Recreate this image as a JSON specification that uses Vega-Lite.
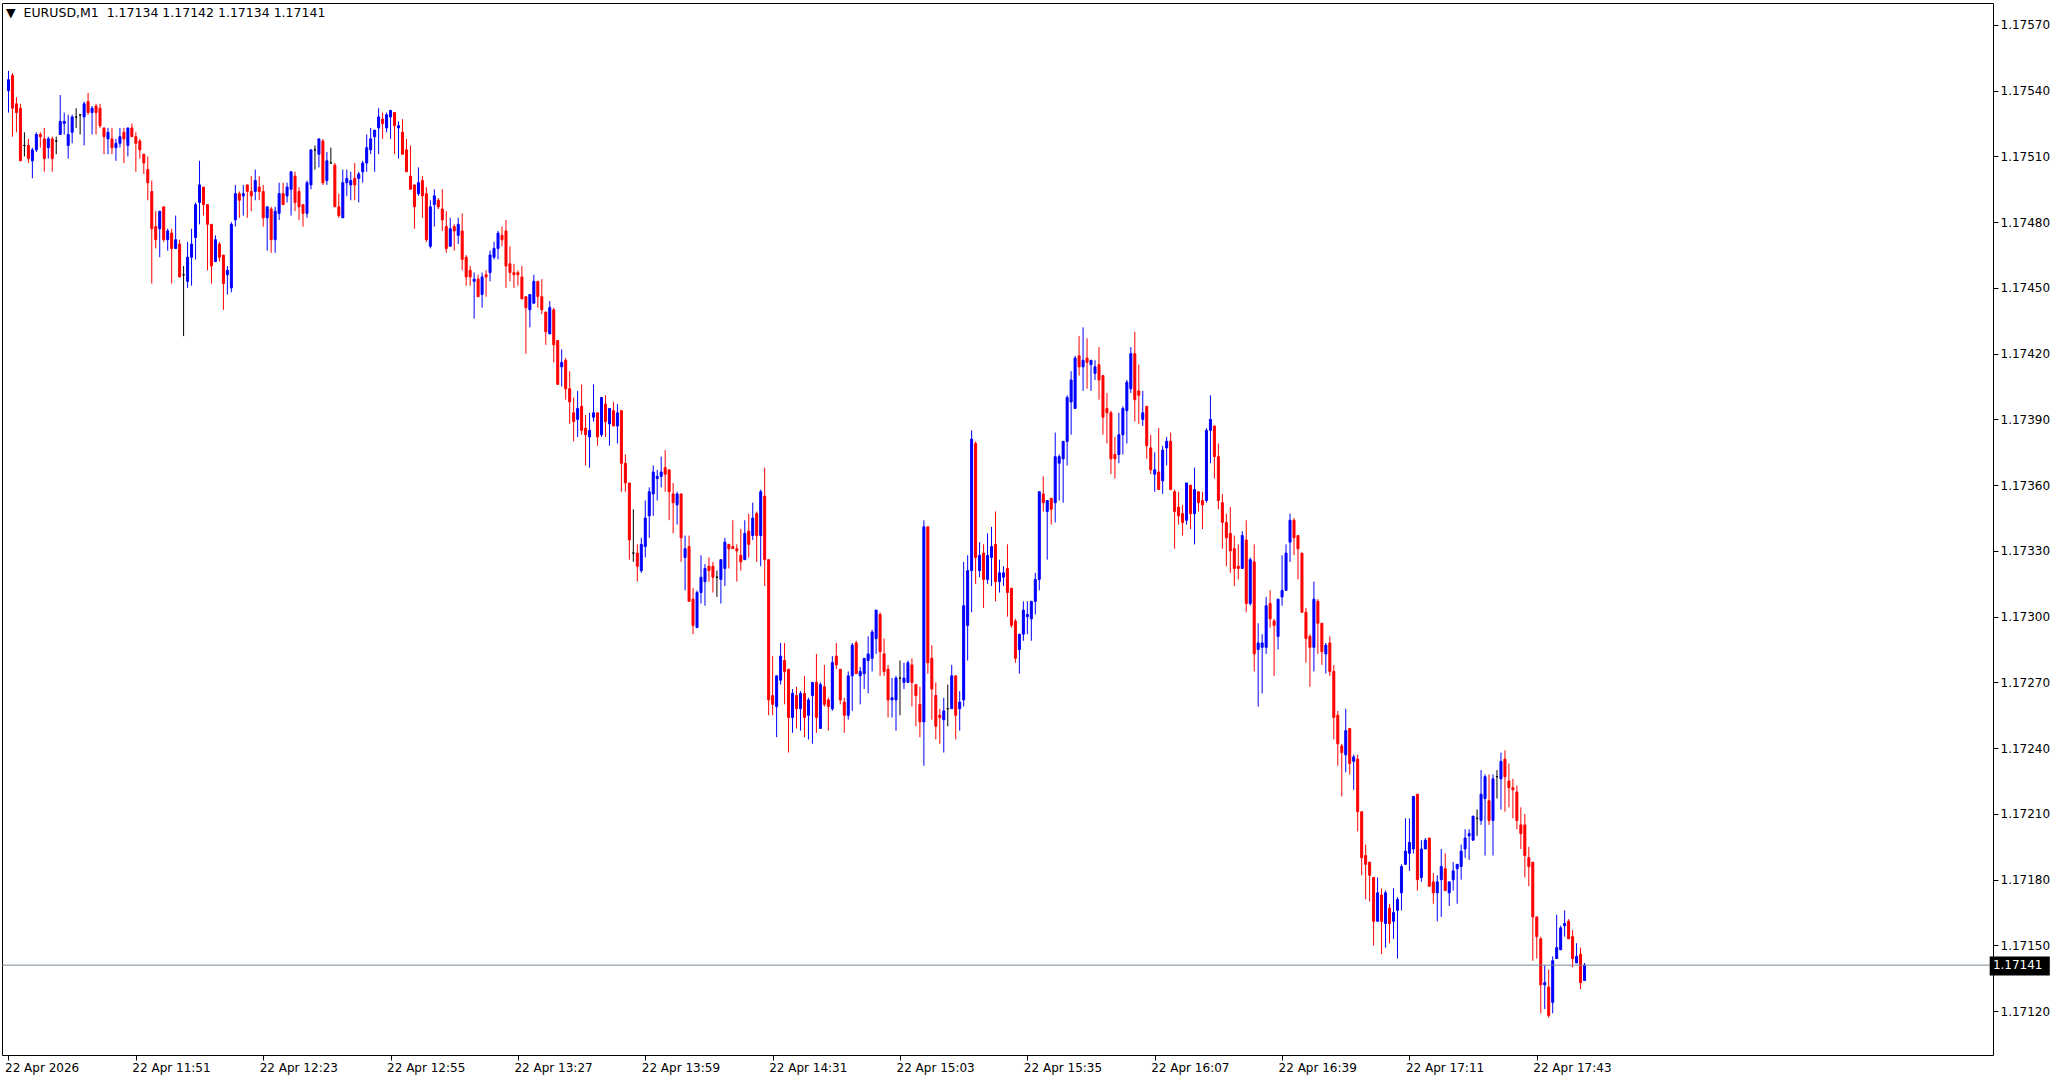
{
"$schema": "https://vega.github.io/schema/vega-lite/v6.json",
"width": 1991, "height": 1052,
"autosize": {"type": "none"},
"padding": {"left": 2, "top": 3, "right": 72, "bottom": 28},
"background": "white",
"config": {"view": {"stroke": "black", "strokeWidth": 1}, "font": "DejaVu Sans"},
"title": {"text": "▼\u00a0\u00a0EURUSD,M1\u00a0\u00a01.17134 1.17142 1.17134 1.17141", "anchor": "start", "frame": "group", "orient": "top", "offset": -26.5, "baseline": "alphabetic", "dx": 4, "font": "DejaVu Sans", "fontSize": 12.5, "fontWeight": "normal", "color": "black"},
"data": {"values": [
{"m":679,"o":1.17540,"h":1.17549,"l":1.17530,"c":1.17545},
{"m":680,"o":1.17547,"h":1.17548,"l":1.17519,"c":1.17532},
{"m":681,"o":1.17534,"h":1.17537,"l":1.17521,"c":1.17530},
{"m":682,"o":1.17532,"h":1.17534,"l":1.17508,"c":1.17508},
{"m":683,"o":1.17515,"h":1.17521,"l":1.17510,"c":1.17515},
{"m":684,"o":1.17515,"h":1.17518,"l":1.17507,"c":1.17509},
{"m":685,"o":1.17508,"h":1.17514,"l":1.17500,"c":1.17513},
{"m":686,"o":1.17513,"h":1.17521,"l":1.17512,"c":1.17520},
{"m":687,"o":1.17520,"h":1.17521,"l":1.17514,"c":1.17519},
{"m":688,"o":1.17518,"h":1.17523,"l":1.17503,"c":1.17509},
{"m":689,"o":1.17514,"h":1.17519,"l":1.17509,"c":1.17518},
{"m":690,"o":1.17518,"h":1.17519,"l":1.17503,"c":1.17509},
{"m":691,"o":1.17517,"h":1.17519,"l":1.17511,"c":1.17517},
{"m":692,"o":1.17520,"h":1.17538,"l":1.17520,"c":1.17526},
{"m":693,"o":1.17525,"h":1.17530,"l":1.17520,"c":1.17526},
{"m":694,"o":1.17515,"h":1.17529,"l":1.17509,"c":1.17520},
{"m":695,"o":1.17521,"h":1.17529,"l":1.17516,"c":1.17528},
{"m":696,"o":1.17528,"h":1.17532,"l":1.17523,"c":1.17528},
{"m":697,"o":1.17529,"h":1.17529,"l":1.17520,"c":1.17529},
{"m":698,"o":1.17528,"h":1.17535,"l":1.17515,"c":1.17534},
{"m":699,"o":1.17535,"h":1.17539,"l":1.17529,"c":1.17530},
{"m":700,"o":1.17530,"h":1.17533,"l":1.17520,"c":1.17532},
{"m":701,"o":1.17533,"h":1.17534,"l":1.17520,"c":1.17530},
{"m":702,"o":1.17532,"h":1.17534,"l":1.17523,"c":1.17524},
{"m":703,"o":1.17523,"h":1.17523,"l":1.17511,"c":1.17519},
{"m":704,"o":1.17518,"h":1.17523,"l":1.17511,"c":1.17521},
{"m":705,"o":1.17518,"h":1.17523,"l":1.17511,"c":1.17514},
{"m":706,"o":1.17514,"h":1.17518,"l":1.17508,"c":1.17516},
{"m":707,"o":1.17516,"h":1.17523,"l":1.17514,"c":1.17519},
{"m":708,"o":1.17521,"h":1.17523,"l":1.17507,"c":1.17518},
{"m":709,"o":1.17515,"h":1.17523,"l":1.17510,"c":1.17523},
{"m":710,"o":1.17523,"h":1.17525,"l":1.17519,"c":1.17519},
{"m":711,"o":1.17519,"h":1.17521,"l":1.17503,"c":1.17516},
{"m":712,"o":1.17517,"h":1.17518,"l":1.17509,"c":1.17513},
{"m":713,"o":1.17511,"h":1.17511,"l":1.17502,"c":1.17507},
{"m":714,"o":1.17504,"h":1.17510,"l":1.17490,"c":1.17498},
{"m":715,"o":1.17494,"h":1.17499,"l":1.17452,"c":1.17477},
{"m":716,"o":1.17478,"h":1.17485,"l":1.17468,"c":1.17472},
{"m":717,"o":1.17477,"h":1.17485,"l":1.17464,"c":1.17485},
{"m":718,"o":1.17487,"h":1.17487,"l":1.17471,"c":1.17472},
{"m":719,"o":1.17472,"h":1.17477,"l":1.17467,"c":1.17476},
{"m":720,"o":1.17475,"h":1.17477,"l":1.17452,"c":1.17468},
{"m":721,"o":1.17468,"h":1.17483,"l":1.17468,"c":1.17472},
{"m":722,"o":1.17470,"h":1.17472,"l":1.17455,"c":1.17455},
{"m":723,"o":1.17456,"h":1.17460,"l":1.17428,"c":1.17456},
{"m":724,"o":1.17453,"h":1.17471,"l":1.17450,"c":1.17464},
{"m":725,"o":1.17464,"h":1.17477,"l":1.17451,"c":1.17470},
{"m":726,"o":1.17473,"h":1.17489,"l":1.17463,"c":1.17488},
{"m":727,"o":1.17489,"h":1.17508,"l":1.17479,"c":1.17497},
{"m":728,"o":1.17496,"h":1.17496,"l":1.17483,"c":1.17488},
{"m":729,"o":1.17488,"h":1.17488,"l":1.17458,"c":1.17479},
{"m":730,"o":1.17479,"h":1.17479,"l":1.17452,"c":1.17460},
{"m":731,"o":1.17462,"h":1.17474,"l":1.17462,"c":1.17472},
{"m":732,"o":1.17470,"h":1.17471,"l":1.17462,"c":1.17464},
{"m":733,"o":1.17465,"h":1.17465,"l":1.17440,"c":1.17452},
{"m":734,"o":1.17456,"h":1.17460,"l":1.17447,"c":1.17458},
{"m":735,"o":1.17450,"h":1.17480,"l":1.17448,"c":1.17479},
{"m":736,"o":1.17481,"h":1.17497,"l":1.17478,"c":1.17493},
{"m":737,"o":1.17493,"h":1.17494,"l":1.17482,"c":1.17490},
{"m":738,"o":1.17492,"h":1.17497,"l":1.17483,"c":1.17493},
{"m":739,"o":1.17497,"h":1.17497,"l":1.17482,"c":1.17494},
{"m":740,"o":1.17494,"h":1.17501,"l":1.17485,"c":1.17492},
{"m":741,"o":1.17494,"h":1.17504,"l":1.17490,"c":1.17499},
{"m":742,"o":1.17496,"h":1.17501,"l":1.17490,"c":1.17494},
{"m":743,"o":1.17494,"h":1.17497,"l":1.17478,"c":1.17482},
{"m":744,"o":1.17482,"h":1.17487,"l":1.17467,"c":1.17487},
{"m":745,"o":1.17486,"h":1.17487,"l":1.17466,"c":1.17472},
{"m":746,"o":1.17472,"h":1.17487,"l":1.17466,"c":1.17485},
{"m":747,"o":1.17484,"h":1.17498,"l":1.17481,"c":1.17493},
{"m":748,"o":1.17493,"h":1.17498,"l":1.17488,"c":1.17488},
{"m":749,"o":1.17492,"h":1.17498,"l":1.17489,"c":1.17496},
{"m":750,"o":1.17495,"h":1.17503,"l":1.17483,"c":1.17503},
{"m":751,"o":1.17501,"h":1.17503,"l":1.17485,"c":1.17489},
{"m":752,"o":1.17494,"h":1.17496,"l":1.17481,"c":1.17487},
{"m":753,"o":1.17488,"h":1.17488,"l":1.17478,"c":1.17484},
{"m":754,"o":1.17484,"h":1.17499,"l":1.17482,"c":1.17498},
{"m":755,"o":1.17497,"h":1.17513,"l":1.17495,"c":1.17513},
{"m":756,"o":1.17513,"h":1.17515,"l":1.17504,"c":1.17513},
{"m":757,"o":1.17511,"h":1.17518,"l":1.17505,"c":1.17518},
{"m":758,"o":1.17517,"h":1.17518,"l":1.17497,"c":1.17498},
{"m":759,"o":1.17499,"h":1.17512,"l":1.17497,"c":1.17508},
{"m":760,"o":1.17507,"h":1.17514,"l":1.17507,"c":1.17507},
{"m":761,"o":1.17506,"h":1.17507,"l":1.17487,"c":1.17487},
{"m":762,"o":1.17487,"h":1.17493,"l":1.17482,"c":1.17483},
{"m":763,"o":1.17482,"h":1.17504,"l":1.17482,"c":1.17498},
{"m":764,"o":1.17498,"h":1.17504,"l":1.17492,"c":1.17500},
{"m":765,"o":1.17497,"h":1.17503,"l":1.17490,"c":1.17499},
{"m":766,"o":1.17500,"h":1.17507,"l":1.17490,"c":1.17497},
{"m":767,"o":1.17500,"h":1.17503,"l":1.17489,"c":1.17502},
{"m":768,"o":1.17503,"h":1.17508,"l":1.17498,"c":1.17507},
{"m":769,"o":1.17507,"h":1.17520,"l":1.17503,"c":1.17514},
{"m":770,"o":1.17513,"h":1.17523,"l":1.17511,"c":1.17518},
{"m":771,"o":1.17519,"h":1.17522,"l":1.17503,"c":1.17522},
{"m":772,"o":1.17523,"h":1.17532,"l":1.17511,"c":1.17528},
{"m":773,"o":1.17527,"h":1.17530,"l":1.17518,"c":1.17525},
{"m":774,"o":1.17523,"h":1.17530,"l":1.17521,"c":1.17529},
{"m":775,"o":1.17528,"h":1.17531,"l":1.17518,"c":1.17531},
{"m":776,"o":1.17530,"h":1.17530,"l":1.17511,"c":1.17524},
{"m":777,"o":1.17523,"h":1.17526,"l":1.17509,"c":1.17524},
{"m":778,"o":1.17521,"h":1.17527,"l":1.17511,"c":1.17511},
{"m":779,"o":1.17513,"h":1.17518,"l":1.17503,"c":1.17503},
{"m":780,"o":1.17501,"h":1.17515,"l":1.17495,"c":1.17495},
{"m":781,"o":1.17497,"h":1.17497,"l":1.17477,"c":1.17487},
{"m":782,"o":1.17493,"h":1.17505,"l":1.17492,"c":1.17498},
{"m":783,"o":1.17499,"h":1.17501,"l":1.17482,"c":1.17492},
{"m":784,"o":1.17493,"h":1.17496,"l":1.17471,"c":1.17472},
{"m":785,"o":1.17469,"h":1.17490,"l":1.17468,"c":1.17487},
{"m":786,"o":1.17488,"h":1.17495,"l":1.17478,"c":1.17492},
{"m":787,"o":1.17490,"h":1.17491,"l":1.17486,"c":1.17487},
{"m":788,"o":1.17486,"h":1.17495,"l":1.17476,"c":1.17481},
{"m":789,"o":1.17478,"h":1.17485,"l":1.17466,"c":1.17468},
{"m":790,"o":1.17469,"h":1.17482,"l":1.17469,"c":1.17477},
{"m":791,"o":1.17478,"h":1.17479,"l":1.17467,"c":1.17476},
{"m":792,"o":1.17474,"h":1.17482,"l":1.17470,"c":1.17479},
{"m":793,"o":1.17476,"h":1.17484,"l":1.17458,"c":1.17463},
{"m":794,"o":1.17464,"h":1.17465,"l":1.17451,"c":1.17455},
{"m":795,"o":1.17458,"h":1.17460,"l":1.17451,"c":1.17455},
{"m":796,"o":1.17453,"h":1.17457,"l":1.17436,"c":1.17454},
{"m":797,"o":1.17454,"h":1.17456,"l":1.17446,"c":1.17446},
{"m":798,"o":1.17447,"h":1.17457,"l":1.17441,"c":1.17455},
{"m":799,"o":1.17456,"h":1.17458,"l":1.17446,"c":1.17455},
{"m":800,"o":1.17457,"h":1.17467,"l":1.17453,"c":1.17465},
{"m":801,"o":1.17464,"h":1.17471,"l":1.17463,"c":1.17468},
{"m":802,"o":1.17468,"h":1.17476,"l":1.17463,"c":1.17475},
{"m":803,"o":1.17474,"h":1.17478,"l":1.17469,"c":1.17472},
{"m":804,"o":1.17476,"h":1.17481,"l":1.17450,"c":1.17460},
{"m":805,"o":1.17461,"h":1.17469,"l":1.17453,"c":1.17457},
{"m":806,"o":1.17457,"h":1.17461,"l":1.17450,"c":1.17456},
{"m":807,"o":1.17457,"h":1.17458,"l":1.17451,"c":1.17456},
{"m":808,"o":1.17455,"h":1.17460,"l":1.17445,"c":1.17445},
{"m":809,"o":1.17446,"h":1.17446,"l":1.17420,"c":1.17441},
{"m":810,"o":1.17440,"h":1.17447,"l":1.17432,"c":1.17447},
{"m":811,"o":1.17443,"h":1.17456,"l":1.17443,"c":1.17453},
{"m":812,"o":1.17453,"h":1.17453,"l":1.17441,"c":1.17446},
{"m":813,"o":1.17446,"h":1.17454,"l":1.17438,"c":1.17440},
{"m":814,"o":1.17439,"h":1.17439,"l":1.17424,"c":1.17430},
{"m":815,"o":1.17429,"h":1.17444,"l":1.17429,"c":1.17441},
{"m":816,"o":1.17440,"h":1.17441,"l":1.17416,"c":1.17424},
{"m":817,"o":1.17426,"h":1.17426,"l":1.17406,"c":1.17406},
{"m":818,"o":1.17414,"h":1.17422,"l":1.17405,"c":1.17416},
{"m":819,"o":1.17417,"h":1.17418,"l":1.17399,"c":1.17404},
{"m":820,"o":1.17404,"h":1.17412,"l":1.17388,"c":1.17398},
{"m":821,"o":1.17393,"h":1.17400,"l":1.17380,"c":1.17389},
{"m":822,"o":1.17390,"h":1.17403,"l":1.17382,"c":1.17395},
{"m":823,"o":1.17396,"h":1.17406,"l":1.17383,"c":1.17385},
{"m":824,"o":1.17386,"h":1.17392,"l":1.17369,"c":1.17383},
{"m":825,"o":1.17382,"h":1.17393,"l":1.17368,"c":1.17385},
{"m":826,"o":1.17391,"h":1.17406,"l":1.17389,"c":1.17393},
{"m":827,"o":1.17393,"h":1.17393,"l":1.17378,"c":1.17382},
{"m":828,"o":1.17383,"h":1.17400,"l":1.17382,"c":1.17400},
{"m":829,"o":1.17397,"h":1.17401,"l":1.17382,"c":1.17389},
{"m":830,"o":1.17388,"h":1.17395,"l":1.17378,"c":1.17395},
{"m":831,"o":1.17394,"h":1.17398,"l":1.17387,"c":1.17387},
{"m":832,"o":1.17387,"h":1.17397,"l":1.17379,"c":1.17393},
{"m":833,"o":1.17394,"h":1.17394,"l":1.17357,"c":1.17370},
{"m":834,"o":1.17370,"h":1.17374,"l":1.17357,"c":1.17361},
{"m":835,"o":1.17361,"h":1.17361,"l":1.17326,"c":1.17335},
{"m":836,"o":1.17329,"h":1.17349,"l":1.17325,"c":1.17329},
{"m":837,"o":1.17329,"h":1.17333,"l":1.17316,"c":1.17323},
{"m":838,"o":1.17321,"h":1.17336,"l":1.17320,"c":1.17333},
{"m":839,"o":1.17332,"h":1.17353,"l":1.17327,"c":1.17345},
{"m":840,"o":1.17346,"h":1.17359,"l":1.17336,"c":1.17357},
{"m":841,"o":1.17356,"h":1.17369,"l":1.17346,"c":1.17366},
{"m":842,"o":1.17363,"h":1.17367,"l":1.17353,"c":1.17364},
{"m":843,"o":1.17364,"h":1.17373,"l":1.17359,"c":1.17366},
{"m":844,"o":1.17368,"h":1.17376,"l":1.17357,"c":1.17365},
{"m":845,"o":1.17367,"h":1.17367,"l":1.17344,"c":1.17357},
{"m":846,"o":1.17356,"h":1.17361,"l":1.17338,"c":1.17352},
{"m":847,"o":1.17351,"h":1.17357,"l":1.17342,"c":1.17356},
{"m":848,"o":1.17356,"h":1.17356,"l":1.17325,"c":1.17336},
{"m":849,"o":1.17327,"h":1.17337,"l":1.17312,"c":1.17331},
{"m":850,"o":1.17332,"h":1.17337,"l":1.17307,"c":1.17307},
{"m":851,"o":1.17308,"h":1.17313,"l":1.17292,"c":1.17296},
{"m":852,"o":1.17295,"h":1.17312,"l":1.17295,"c":1.17311},
{"m":853,"o":1.17311,"h":1.17328,"l":1.17306,"c":1.17318},
{"m":854,"o":1.17316,"h":1.17324,"l":1.17305,"c":1.17322},
{"m":855,"o":1.17323,"h":1.17327,"l":1.17316,"c":1.17321},
{"m":856,"o":1.17323,"h":1.17325,"l":1.17311,"c":1.17318},
{"m":857,"o":1.17318,"h":1.17321,"l":1.17309,"c":1.17318},
{"m":858,"o":1.17317,"h":1.17326,"l":1.17306,"c":1.17326},
{"m":859,"o":1.17322,"h":1.17336,"l":1.17314,"c":1.17334},
{"m":860,"o":1.17333,"h":1.17333,"l":1.17322,"c":1.17331},
{"m":861,"o":1.17332,"h":1.17344,"l":1.17331,"c":1.17331},
{"m":862,"o":1.17331,"h":1.17333,"l":1.17316,"c":1.17330},
{"m":863,"o":1.17328,"h":1.17340,"l":1.17321,"c":1.17325},
{"m":864,"o":1.17326,"h":1.17344,"l":1.17326,"c":1.17338},
{"m":865,"o":1.17339,"h":1.17347,"l":1.17327,"c":1.17333},
{"m":866,"o":1.17337,"h":1.17352,"l":1.17335,"c":1.17345},
{"m":867,"o":1.17347,"h":1.17348,"l":1.17325,"c":1.17337},
{"m":868,"o":1.17337,"h":1.17358,"l":1.17323,"c":1.17357},
{"m":869,"o":1.17355,"h":1.17368,"l":1.17314,"c":1.17326},
{"m":870,"o":1.17326,"h":1.17326,"l":1.17255,"c":1.17262},
{"m":871,"o":1.17264,"h":1.17282,"l":1.17255,"c":1.17260},
{"m":872,"o":1.17259,"h":1.17273,"l":1.17245,"c":1.17273},
{"m":873,"o":1.17271,"h":1.17288,"l":1.17269,"c":1.17282},
{"m":874,"o":1.17280,"h":1.17288,"l":1.17260,"c":1.17275},
{"m":875,"o":1.17276,"h":1.17276,"l":1.17238,"c":1.17254},
{"m":876,"o":1.17254,"h":1.17267,"l":1.17247,"c":1.17265},
{"m":877,"o":1.17264,"h":1.17268,"l":1.17249,"c":1.17258},
{"m":878,"o":1.17258,"h":1.17266,"l":1.17248,"c":1.17265},
{"m":879,"o":1.17265,"h":1.17273,"l":1.17245,"c":1.17254},
{"m":880,"o":1.17255,"h":1.17263,"l":1.17244,"c":1.17262},
{"m":881,"o":1.17264,"h":1.17270,"l":1.17242,"c":1.17270},
{"m":882,"o":1.17270,"h":1.17283,"l":1.17247,"c":1.17254},
{"m":883,"o":1.17249,"h":1.17270,"l":1.17249,"c":1.17269},
{"m":884,"o":1.17268,"h":1.17278,"l":1.17259,"c":1.17260},
{"m":885,"o":1.17262,"h":1.17263,"l":1.17248,"c":1.17259},
{"m":886,"o":1.17258,"h":1.17282,"l":1.17257,"c":1.17279},
{"m":887,"o":1.17282,"h":1.17288,"l":1.17276,"c":1.17278},
{"m":888,"o":1.17276,"h":1.17276,"l":1.17260,"c":1.17262},
{"m":889,"o":1.17261,"h":1.17263,"l":1.17247,"c":1.17255},
{"m":890,"o":1.17255,"h":1.17275,"l":1.17253,"c":1.17273},
{"m":891,"o":1.17273,"h":1.17288,"l":1.17257,"c":1.17287},
{"m":892,"o":1.17288,"h":1.17289,"l":1.17274,"c":1.17274},
{"m":893,"o":1.17273,"h":1.17277,"l":1.17260,"c":1.17275},
{"m":894,"o":1.17274,"h":1.17281,"l":1.17267,"c":1.17281},
{"m":895,"o":1.17280,"h":1.17291,"l":1.17265,"c":1.17283},
{"m":896,"o":1.17281,"h":1.17294,"l":1.17275,"c":1.17293},
{"m":897,"o":1.17290,"h":1.17303,"l":1.17283,"c":1.17303},
{"m":898,"o":1.17301,"h":1.17302,"l":1.17273,"c":1.17284},
{"m":899,"o":1.17283,"h":1.17290,"l":1.17273,"c":1.17275},
{"m":900,"o":1.17276,"h":1.17278,"l":1.17254,"c":1.17262},
{"m":901,"o":1.17262,"h":1.17272,"l":1.17254,"c":1.17263},
{"m":902,"o":1.17262,"h":1.17273,"l":1.17248,"c":1.17272},
{"m":903,"o":1.17272,"h":1.17280,"l":1.17255,"c":1.17272},
{"m":904,"o":1.17270,"h":1.17279,"l":1.17267,"c":1.17272},
{"m":905,"o":1.17270,"h":1.17280,"l":1.17270,"c":1.17279},
{"m":906,"o":1.17278,"h":1.17281,"l":1.17259,"c":1.17270},
{"m":907,"o":1.17269,"h":1.17269,"l":1.17250,"c":1.17264},
{"m":908,"o":1.17260,"h":1.17268,"l":1.17245,"c":1.17252},
{"m":909,"o":1.17252,"h":1.17344,"l":1.17232,"c":1.17341},
{"m":910,"o":1.17341,"h":1.17341,"l":1.17274,"c":1.17279},
{"m":911,"o":1.17281,"h":1.17287,"l":1.17253,"c":1.17267},
{"m":912,"o":1.17264,"h":1.17270,"l":1.17244,"c":1.17250},
{"m":913,"o":1.17255,"h":1.17258,"l":1.17242,"c":1.17254},
{"m":914,"o":1.17253,"h":1.17263,"l":1.17238,"c":1.17257},
{"m":915,"o":1.17258,"h":1.17269,"l":1.17250,"c":1.17258},
{"m":916,"o":1.17258,"h":1.17278,"l":1.17258,"c":1.17273},
{"m":917,"o":1.17273,"h":1.17273,"l":1.17244,"c":1.17255},
{"m":918,"o":1.17258,"h":1.17266,"l":1.17248,"c":1.17261},
{"m":919,"o":1.17262,"h":1.17325,"l":1.17259,"c":1.17305},
{"m":920,"o":1.17296,"h":1.17328,"l":1.17280,"c":1.17321},
{"m":921,"o":1.17321,"h":1.17385,"l":1.17302,"c":1.17381},
{"m":922,"o":1.17379,"h":1.17380,"l":1.17315,"c":1.17327},
{"m":923,"o":1.17321,"h":1.17334,"l":1.17318,"c":1.17328},
{"m":924,"o":1.17329,"h":1.17333,"l":1.17304,"c":1.17317},
{"m":925,"o":1.17317,"h":1.17338,"l":1.17315,"c":1.17328},
{"m":926,"o":1.17327,"h":1.17341,"l":1.17314,"c":1.17332},
{"m":927,"o":1.17333,"h":1.17348,"l":1.17307,"c":1.17316},
{"m":928,"o":1.17316,"h":1.17326,"l":1.17311,"c":1.17320},
{"m":929,"o":1.17318,"h":1.17323,"l":1.17314,"c":1.17320},
{"m":930,"o":1.17322,"h":1.17333,"l":1.17300,"c":1.17311},
{"m":931,"o":1.17313,"h":1.17313,"l":1.17295,"c":1.17296},
{"m":932,"o":1.17298,"h":1.17299,"l":1.17279,"c":1.17281},
{"m":933,"o":1.17285,"h":1.17292,"l":1.17274,"c":1.17292},
{"m":934,"o":1.17292,"h":1.17307,"l":1.17289,"c":1.17303},
{"m":935,"o":1.17300,"h":1.17307,"l":1.17292,"c":1.17301},
{"m":936,"o":1.17299,"h":1.17307,"l":1.17289,"c":1.17307},
{"m":937,"o":1.17307,"h":1.17320,"l":1.17301,"c":1.17317},
{"m":938,"o":1.17317,"h":1.17357,"l":1.17312,"c":1.17357},
{"m":939,"o":1.17356,"h":1.17364,"l":1.17348,"c":1.17352},
{"m":940,"o":1.17348,"h":1.17353,"l":1.17326,"c":1.17353},
{"m":941,"o":1.17354,"h":1.17354,"l":1.17342,"c":1.17349},
{"m":942,"o":1.17352,"h":1.17384,"l":1.17343,"c":1.17373},
{"m":943,"o":1.17370,"h":1.17374,"l":1.17353,"c":1.17373},
{"m":944,"o":1.17372,"h":1.17380,"l":1.17352,"c":1.17380},
{"m":945,"o":1.17380,"h":1.17401,"l":1.17369,"c":1.17400},
{"m":946,"o":1.17398,"h":1.17412,"l":1.17383,"c":1.17408},
{"m":947,"o":1.17395,"h":1.17419,"l":1.17395,"c":1.17418},
{"m":948,"o":1.17419,"h":1.17428,"l":1.17410,"c":1.17414},
{"m":949,"o":1.17414,"h":1.17432,"l":1.17403,"c":1.17417},
{"m":950,"o":1.17418,"h":1.17427,"l":1.17404,"c":1.17416},
{"m":951,"o":1.17415,"h":1.17417,"l":1.17403,"c":1.17417},
{"m":952,"o":1.17411,"h":1.17417,"l":1.17408,"c":1.17414},
{"m":953,"o":1.17415,"h":1.17423,"l":1.17399,"c":1.17408},
{"m":954,"o":1.17410,"h":1.17410,"l":1.17383,"c":1.17391},
{"m":955,"o":1.17395,"h":1.17402,"l":1.17379,"c":1.17393},
{"m":956,"o":1.17393,"h":1.17394,"l":1.17365,"c":1.17372},
{"m":957,"o":1.17374,"h":1.17382,"l":1.17363,"c":1.17372},
{"m":958,"o":1.17374,"h":1.17393,"l":1.17370,"c":1.17383},
{"m":959,"o":1.17383,"h":1.17396,"l":1.17374,"c":1.17395},
{"m":960,"o":1.17394,"h":1.17408,"l":1.17379,"c":1.17407},
{"m":961,"o":1.17404,"h":1.17423,"l":1.17402,"c":1.17420},
{"m":962,"o":1.17420,"h":1.17430,"l":1.17389,"c":1.17399},
{"m":963,"o":1.17403,"h":1.17415,"l":1.17388,"c":1.17401},
{"m":964,"o":1.17390,"h":1.17403,"l":1.17387,"c":1.17393},
{"m":965,"o":1.17396,"h":1.17396,"l":1.17372,"c":1.17378},
{"m":966,"o":1.17377,"h":1.17383,"l":1.17365,"c":1.17367},
{"m":967,"o":1.17365,"h":1.17375,"l":1.17357,"c":1.17367},
{"m":968,"o":1.17366,"h":1.17386,"l":1.17358,"c":1.17358},
{"m":969,"o":1.17362,"h":1.17378,"l":1.17356,"c":1.17376},
{"m":970,"o":1.17377,"h":1.17382,"l":1.17369,"c":1.17380},
{"m":971,"o":1.17380,"h":1.17384,"l":1.17358,"c":1.17358},
{"m":972,"o":1.17357,"h":1.17358,"l":1.17331,"c":1.17348},
{"m":973,"o":1.17350,"h":1.17357,"l":1.17342,"c":1.17346},
{"m":974,"o":1.17347,"h":1.17351,"l":1.17337,"c":1.17343},
{"m":975,"o":1.17344,"h":1.17361,"l":1.17342,"c":1.17361},
{"m":976,"o":1.17360,"h":1.17360,"l":1.17340,"c":1.17347},
{"m":977,"o":1.17347,"h":1.17368,"l":1.17333,"c":1.17358},
{"m":978,"o":1.17357,"h":1.17357,"l":1.17348,"c":1.17352},
{"m":979,"o":1.17353,"h":1.17357,"l":1.17340,"c":1.17351},
{"m":980,"o":1.17353,"h":1.17386,"l":1.17352,"c":1.17385},
{"m":981,"o":1.17385,"h":1.17401,"l":1.17370,"c":1.17390},
{"m":982,"o":1.17387,"h":1.17387,"l":1.17363,"c":1.17373},
{"m":983,"o":1.17373,"h":1.17379,"l":1.17349,"c":1.17353},
{"m":984,"o":1.17352,"h":1.17356,"l":1.17331,"c":1.17343},
{"m":985,"o":1.17343,"h":1.17347,"l":1.17323,"c":1.17336},
{"m":986,"o":1.17338,"h":1.17350,"l":1.17320,"c":1.17330},
{"m":987,"o":1.17331,"h":1.17337,"l":1.17314,"c":1.17322},
{"m":988,"o":1.17323,"h":1.17333,"l":1.17317,"c":1.17322},
{"m":989,"o":1.17322,"h":1.17339,"l":1.17322,"c":1.17337},
{"m":990,"o":1.17335,"h":1.17344,"l":1.17302,"c":1.17306},
{"m":991,"o":1.17306,"h":1.17327,"l":1.17305,"c":1.17326},
{"m":992,"o":1.17325,"h":1.17333,"l":1.17275,"c":1.17283},
{"m":993,"o":1.17285,"h":1.17297,"l":1.17259,"c":1.17288},
{"m":994,"o":1.17286,"h":1.17292,"l":1.17265,"c":1.17288},
{"m":995,"o":1.17286,"h":1.17309,"l":1.17283,"c":1.17305},
{"m":996,"o":1.17306,"h":1.17312,"l":1.17295,"c":1.17299},
{"m":997,"o":1.17298,"h":1.17299,"l":1.17273,"c":1.17296},
{"m":998,"o":1.17291,"h":1.17308,"l":1.17285,"c":1.17308},
{"m":999,"o":1.17309,"h":1.17328,"l":1.17305,"c":1.17312},
{"m":1000,"o":1.17312,"h":1.17333,"l":1.17312,"c":1.17329},
{"m":1001,"o":1.17334,"h":1.17347,"l":1.17325,"c":1.17344},
{"m":1002,"o":1.17344,"h":1.17345,"l":1.17328,"c":1.17336},
{"m":1003,"o":1.17337,"h":1.17337,"l":1.17317,"c":1.17331},
{"m":1004,"o":1.17329,"h":1.17329,"l":1.17302,"c":1.17302},
{"m":1005,"o":1.17302,"h":1.17304,"l":1.17279,"c":1.17290},
{"m":1006,"o":1.17291,"h":1.17292,"l":1.17268,"c":1.17286},
{"m":1007,"o":1.17286,"h":1.17316,"l":1.17275,"c":1.17308},
{"m":1008,"o":1.17307,"h":1.17308,"l":1.17283,"c":1.17297},
{"m":1009,"o":1.17297,"h":1.17297,"l":1.17278,"c":1.17284},
{"m":1010,"o":1.17283,"h":1.17288,"l":1.17274,"c":1.17287},
{"m":1011,"o":1.17288,"h":1.17291,"l":1.17273,"c":1.17275},
{"m":1012,"o":1.17275,"h":1.17278,"l":1.17244,"c":1.17254},
{"m":1013,"o":1.17255,"h":1.17257,"l":1.17232,"c":1.17242},
{"m":1014,"o":1.17241,"h":1.17242,"l":1.17218,"c":1.17238},
{"m":1015,"o":1.17237,"h":1.17258,"l":1.17229,"c":1.17248},
{"m":1016,"o":1.17249,"h":1.17249,"l":1.17228,"c":1.17233},
{"m":1017,"o":1.17234,"h":1.17237,"l":1.17221,"c":1.17236},
{"m":1018,"o":1.17235,"h":1.17237,"l":1.17202,"c":1.17211},
{"m":1019,"o":1.17211,"h":1.17211,"l":1.17182,"c":1.17190},
{"m":1020,"o":1.17191,"h":1.17196,"l":1.17171,"c":1.17187},
{"m":1021,"o":1.17188,"h":1.17188,"l":1.17170,"c":1.17182},
{"m":1022,"o":1.17181,"h":1.17181,"l":1.17150,"c":1.17161},
{"m":1023,"o":1.17161,"h":1.17181,"l":1.17161,"c":1.17174},
{"m":1024,"o":1.17173,"h":1.17176,"l":1.17146,"c":1.17161},
{"m":1025,"o":1.17160,"h":1.17175,"l":1.17149,"c":1.17174},
{"m":1026,"o":1.17167,"h":1.17169,"l":1.17151,"c":1.17160},
{"m":1027,"o":1.17161,"h":1.17176,"l":1.17153,"c":1.17165},
{"m":1028,"o":1.17166,"h":1.17172,"l":1.17144,"c":1.17171},
{"m":1029,"o":1.17174,"h":1.17187,"l":1.17166,"c":1.17186},
{"m":1030,"o":1.17187,"h":1.17208,"l":1.17187,"c":1.17193},
{"m":1031,"o":1.17192,"h":1.17208,"l":1.17184,"c":1.17197},
{"m":1032,"o":1.17194,"h":1.17218,"l":1.17192,"c":1.17218},
{"m":1033,"o":1.17219,"h":1.17219,"l":1.17175,"c":1.17180},
{"m":1034,"o":1.17181,"h":1.17198,"l":1.17179,"c":1.17194},
{"m":1035,"o":1.17194,"h":1.17199,"l":1.17194,"c":1.17198},
{"m":1036,"o":1.17199,"h":1.17199,"l":1.17177,"c":1.17177},
{"m":1037,"o":1.17179,"h":1.17183,"l":1.17169,"c":1.17174},
{"m":1038,"o":1.17174,"h":1.17182,"l":1.17161,"c":1.17179},
{"m":1039,"o":1.17180,"h":1.17194,"l":1.17163,"c":1.17186},
{"m":1040,"o":1.17185,"h":1.17192,"l":1.17175,"c":1.17175},
{"m":1041,"o":1.17174,"h":1.17179,"l":1.17168,"c":1.17179},
{"m":1042,"o":1.17180,"h":1.17188,"l":1.17175,"c":1.17184},
{"m":1043,"o":1.17185,"h":1.17187,"l":1.17169,"c":1.17187},
{"m":1044,"o":1.17186,"h":1.17196,"l":1.17180,"c":1.17193},
{"m":1045,"o":1.17194,"h":1.17203,"l":1.17190,"c":1.17199},
{"m":1046,"o":1.17200,"h":1.17203,"l":1.17189,"c":1.17201},
{"m":1047,"o":1.17198,"h":1.17209,"l":1.17198,"c":1.17209},
{"m":1048,"o":1.17208,"h":1.17212,"l":1.17200,"c":1.17208},
{"m":1049,"o":1.17207,"h":1.17230,"l":1.17205,"c":1.17219},
{"m":1050,"o":1.17217,"h":1.17228,"l":1.17191,"c":1.17227},
{"m":1051,"o":1.17216,"h":1.17228,"l":1.17205,"c":1.17207},
{"m":1052,"o":1.17207,"h":1.17228,"l":1.17191,"c":1.17226},
{"m":1053,"o":1.17227,"h":1.17230,"l":1.17217,"c":1.17227},
{"m":1054,"o":1.17226,"h":1.17238,"l":1.17212,"c":1.17234},
{"m":1055,"o":1.17235,"h":1.17239,"l":1.17211,"c":1.17227},
{"m":1056,"o":1.17225,"h":1.17233,"l":1.17213,"c":1.17222},
{"m":1057,"o":1.17222,"h":1.17226,"l":1.17208,"c":1.17221},
{"m":1058,"o":1.17220,"h":1.17223,"l":1.17203,"c":1.17207},
{"m":1059,"o":1.17205,"h":1.17213,"l":1.17194,"c":1.17201},
{"m":1060,"o":1.17205,"h":1.17210,"l":1.17181,"c":1.17191},
{"m":1061,"o":1.17190,"h":1.17195,"l":1.17177,"c":1.17186},
{"m":1062,"o":1.17188,"h":1.17188,"l":1.17143,"c":1.17163},
{"m":1063,"o":1.17163,"h":1.17163,"l":1.17144,"c":1.17154},
{"m":1064,"o":1.17153,"h":1.17154,"l":1.17119,"c":1.17132},
{"m":1065,"o":1.17132,"h":1.17141,"l":1.17121,"c":1.17133},
{"m":1066,"o":1.17131,"h":1.17139,"l":1.17117,"c":1.17118},
{"m":1067,"o":1.17124,"h":1.17145,"l":1.17119,"c":1.17143},
{"m":1068,"o":1.17144,"h":1.17164,"l":1.17144,"c":1.17149},
{"m":1069,"o":1.17148,"h":1.17159,"l":1.17148,"c":1.17158},
{"m":1070,"o":1.17159,"h":1.17166,"l":1.17154,"c":1.17160},
{"m":1071,"o":1.17161,"h":1.17162,"l":1.17153,"c":1.17153},
{"m":1072,"o":1.17154,"h":1.17157,"l":1.17140,"c":1.17144},
{"m":1073,"o":1.17142,"h":1.17151,"l":1.17142,"c":1.17145},
{"m":1074,"o":1.17146,"h":1.17149,"l":1.17130,"c":1.17133},
{"m":1075,"o":1.17134,"h":1.17142,"l":1.17134,"c":1.17141}
]},
"layer": [
{"mark": {"type": "rule", "strokeWidth": 1, "clip": true},
 "encoding": {
  "x": {"field": "m", "type": "quantitative", "scale": {"domain": [678.625, 1176.375], "nice": false, "zero": false},
        "axis": {"orient": "bottom", "title": null, "grid": false, "domain": false, "values": [679, 711, 743, 775, 807, 839, 871, 903, 935, 967, 999, 1031, 1063],
                 "labelExpr": "datum.value == 679 ? '22 Apr 2026' : '22 Apr ' + floor(datum.value / 60) + ':' + (datum.value % 60 < 10 ? '0' : '') + (datum.value % 60)",
                 "labelAlign": "left", "labelOffset": -4, "labelFlush": false, "labelOverlap": false, "tickSize": 5, "tickColor": "black", "labelPadding": 2,
                 "labelFont": "DejaVu Sans", "labelFontSize": 12, "labelColor": "black"}},
  "y": {"field": "l", "type": "quantitative", "scale": {"domain": [1.171, 1.1758], "nice": false, "zero": false},
        "axis": {"orient": "right", "title": null, "grid": false, "domain": false, "format": ".5f",
                 "values": [1.1712, 1.1715, 1.1718, 1.1721, 1.1724, 1.1727, 1.173, 1.1733, 1.1736, 1.1739, 1.1742, 1.1745, 1.1748, 1.1751, 1.1754, 1.1757],
                 "labelFlush": false, "labelOverlap": false, "tickSize": 5, "tickColor": "black", "labelPadding": 2,
                 "labelFont": "DejaVu Sans", "labelFontSize": 12, "labelColor": "black"}},
  "y2": {"field": "h"},
  "color": {"condition": [{"test": "datum.c > datum.o", "value": "#0000ff"}, {"test": "datum.c < datum.o", "value": "#ff0000"}], "value": "#000000"}
 }},
{"mark": {"type": "bar", "width": 2, "strokeWidth": 1, "clip": true},
 "encoding": {
  "x": {"field": "m", "type": "quantitative"},
  "y": {"field": "o", "type": "quantitative"},
  "y2": {"field": "c"},
  "fill": {"condition": [{"test": "datum.c > datum.o", "value": "#0000ff"}, {"test": "datum.c < datum.o", "value": "#ff0000"}], "value": "#000000"},
  "stroke": {"condition": [{"test": "datum.c > datum.o", "value": "#0000ff"}, {"test": "datum.c < datum.o", "value": "#ff0000"}], "value": "#000000"}
 }},
{"data": {"values": [{"bid": 1.17141}]},
 "mark": {"type": "rule", "color": "#778899", "strokeWidth": 1},
 "encoding": {"y": {"field": "bid", "type": "quantitative"}}},
{"data": {"values": [{"bid": 1.17141}]},
 "mark": {"type": "rect", "color": "black"},
 "encoding": {"x": {"datum": 1176.8}, "x2": {"datum": 1191.9}, "y": {"datum": 1.171363}, "y2": {"datum": 1.17145}}},
{"data": {"values": [{"bid": 1.17141}]},
 "mark": {"type": "text", "color": "white", "align": "left", "baseline": "middle", "font": "DejaVu Sans", "fontSize": 12},
 "encoding": {"x": {"datum": 1177.6}, "y": {"field": "bid", "type": "quantitative"}, "text": {"field": "bid", "type": "quantitative", "format": ".5f"}}}
]
}
